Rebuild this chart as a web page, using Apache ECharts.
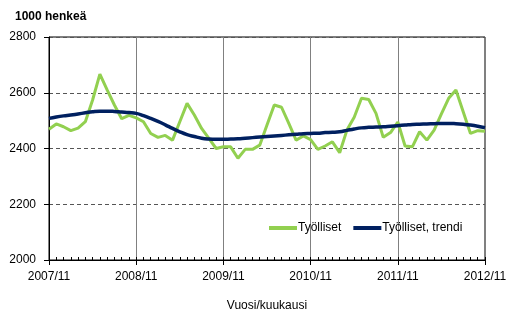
<!DOCTYPE html>
<html>
<head>
<meta charset="utf-8">
<script src="https://cdn.jsdelivr.net/npm/echarts@6/dist/echarts.min.js"></script>
<style>
  html, body { margin: 0; padding: 0; background: #fff; }
  #main { width: 519px; height: 312px; }
</style>
</head>
<body>
<div id="main"></div>
<script>
// kuukaudet 2007/11 - 2012/11
var months = [];
for (var y = 2007; y <= 2012; y++) {
    for (var m = 1; m <= 12; m++) {
        if ((y === 2007 && m < 11) || (y === 2012 && m > 11)) continue;
        months.push(y + '/' + (m < 10 ? '0' + m : m));
    }
}
var yTicks = [2000, 2200, 2400, 2600, 2800];

// Työlliset (1000 henkeä)
var tyolliset = [
    2469, 2488, 2478, 2464, 2473, 2496, 2574, 2667, 2610, 2556, 2507, 2519,
    2510, 2496, 2454, 2440, 2447, 2430, 2496, 2562, 2520, 2472, 2436, 2400,
    2406, 2406, 2365, 2397, 2397, 2412, 2484, 2556, 2548, 2490, 2430, 2445,
    2432, 2397, 2409, 2424, 2385, 2466, 2512, 2580, 2576, 2526, 2440, 2457,
    2495, 2409, 2406, 2460, 2430, 2466, 2524, 2580, 2610, 2532, 2454, 2464,
    2462
];

// Työlliset, trendi
var trendi = [
    2508, 2513, 2517, 2520, 2524, 2528, 2532, 2534, 2534, 2533, 2531, 2529,
    2526, 2518, 2508, 2497, 2485, 2472, 2460, 2450, 2443, 2437, 2434, 2433,
    2433, 2434, 2435, 2437, 2439, 2441, 2443, 2445, 2447, 2449, 2451, 2453,
    2454, 2455, 2457, 2458, 2460, 2465, 2470, 2474, 2476, 2477, 2478, 2480,
    2482, 2484, 2486, 2487, 2488, 2489, 2490, 2490, 2489, 2487, 2484, 2480,
    2475
];

var font = 'Liberation Sans, Arial, sans-serif';
var myChart = echarts.init(document.getElementById('main'));

var option = {
    animation: false,
    textStyle: { fontFamily: font },
    title: {
        text: '1000 henkeä',
        left: 10,
        top: 6,
        textStyle: { fontSize: 12, fontWeight: 'bold', color: '#000', fontFamily: font }
    },
    legend: {
        left: 264,
        top: 217,
        itemWidth: 28,
        itemHeight: 4,
        itemGap: 12,
        icon: 'rect',
        textStyle: { fontSize: 12, color: '#000', padding: [0, 0, 0, -4] },
        data: ['Työlliset', 'Työlliset, trendi']
    },
    grid: {
        left: 49,
        right: 34,
        top: 37,
        bottom: 52,
        outerBoundsMode: 'none',
        show: true,
        borderColor: '#000',
        borderWidth: 1
    },
    xAxis: [{
        type: 'category',
        data: months,
        boundaryGap: false,
        name: 'Vuosi/kuukausi',
        nameLocation: 'middle',
        nameGap: 40,
        nameTextStyle: { fontSize: 12, color: '#000' },
        axisLine: { lineStyle: { color: '#000' } },
        axisTick: { interval: 0, inside: true, length: 3, lineStyle: { color: '#000' } },
        axisLabel: {
            interval: 11,
            margin: 11,
            fontSize: 12,
            color: '#000',
            formatter: function (v) { return v.slice(0, 4) + '/' + Number(v.slice(5)); }
        },
        splitLine: { show: true, interval: 11, lineStyle: { color: '#808080', width: 1 } }
    }, {
        // vuosiviivojen alaspäin menevät tikit
        type: 'category',
        data: months,
        boundaryGap: false,
        position: 'bottom',
        axisLine: { show: false },
        axisTick: { interval: 11, length: 5, lineStyle: { color: '#000' } },
        axisLabel: { show: false },
        splitLine: { show: false }
    }],
    yAxis: {
        type: 'value',
        min: yTicks[0],
        max: yTicks[yTicks.length - 1],
        interval: 200,
        axisLine: { show: true, lineStyle: { color: '#000' } },
        axisTick: { show: true, length: 5, lineStyle: { color: '#000' } },
        axisLabel: {
            margin: 13,
            fontSize: 12,
            color: '#000',
            formatter: function (v) { return String(v); }
        },
        splitLine: { lineStyle: { color: '#555', type: [4, 3], width: 1 } }
    },
    series: [{
        name: 'Työlliset',
        type: 'line',
        data: tyolliset,
        symbol: 'none',
        lineStyle: { color: '#92d050', width: 3 },
        itemStyle: { color: '#92d050' }
    }, {
        name: 'Työlliset, trendi',
        type: 'line',
        data: trendi,
        symbol: 'none',
        smooth: true,
        lineStyle: { color: '#002060', width: 3.5 },
        itemStyle: { color: '#002060' }
    }]
};

myChart.setOption(option);
</script>
</body>
</html>
